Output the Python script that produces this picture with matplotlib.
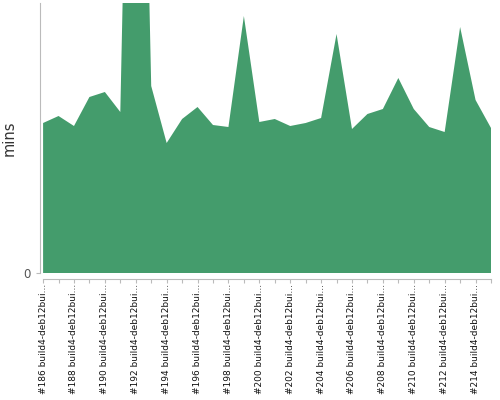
import numpy as np
import matplotlib
matplotlib.use('Agg')
import matplotlib.pyplot as plt

builds = list(range(186, 216))
labels = ['#%d build4-deb12bui...' % b for b in builds]
mins = [15.0, 15.7, 14.7, 17.6, 18.1, 16.1, 90.0, 18.7, 13.0, 15.4,
        16.6, 14.8, 14.6, 25.7, 15.1, 15.4, 14.7, 15.0, 15.5, 23.9,
        14.4, 15.9, 16.4, 19.5, 16.4, 14.6, 14.1, 24.6, 17.3, 14.5]
y_top = 27.0

fig = plt.figure(figsize=(5, 4), dpi=100)
ax = fig.add_axes([0.08, 0.3175, 0.902, 0.675])

x = np.arange(len(builds))
ax.fill_between(x, 0, mins, color='#449c6c', linewidth=0)

# spine position first: it resets the ticks
for s in ['top', 'right']:
    ax.spines[s].set_visible(False)
ax.spines['bottom'].set_position(('outward', 4))
ax.spines['bottom'].set_bounds(0, len(builds) - 1)
ax.spines['bottom'].set_color('#bbbbbb')
ax.spines['left'].set_color('#bbbbbb')

ax.set_xlim(-0.2, len(builds) - 1)
ax.set_ylim(0, y_top)

ax.set_xticks(x)
ax.set_xticklabels([l if i % 2 == 0 else '' for i, l in enumerate(labels)],
                   rotation=90, fontsize=6.5, color='#111111')
ax.set_yticks([0])
ax.set_yticklabels(['0'], color='#555555', fontsize=8.5)
ax.set_ylabel('mins', fontsize=10.5, color='#333333', labelpad=5)
ax.tick_params(axis='x', color='#bbbbbb', length=3, pad=1)
ax.tick_params(axis='y', color='#bbbbbb', length=3)

fig.savefig('out.png')
